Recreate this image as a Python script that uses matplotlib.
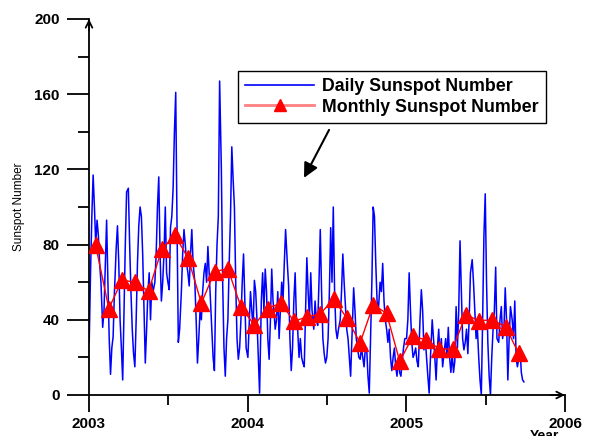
import matplotlib
matplotlib.use("Agg")
import matplotlib.pyplot as plt
from matplotlib.lines import Line2D
import numpy as np
import pandas as pd

plt.rcParams['font.family'] = ['Liberation Sans', 'DejaVu Sans']

# Monthly sunspot numbers, Jan 2003 .. Sep 2005
monthly_2003 = [79.7, 46.0, 61.1, 60.0, 55.2, 77.4, 85.0, 72.7, 48.8, 65.6, 67.2, 46.7]
monthly_2004 = [37.2, 46.0, 48.9, 39.3, 41.5, 43.2, 51.1, 40.9, 27.7, 48.0, 43.5, 17.9]
monthly_2005 = [31.3, 29.2, 24.5, 24.4, 42.6, 39.6, 39.9, 36.4, 22.1]

# Daily sunspot numbers (read every ~3 days: days 1,4,...,28 of each month)
daily_2003 = [
    [28, 65, 95, 117, 100, 80, 93, 85, 70, 60],
    [36, 45, 70, 93, 60, 30, 11, 25, 31, 55],
    [60, 78, 90, 70, 40, 25, 8, 45, 80, 108],
    [110, 80, 55, 35, 22, 15, 40, 70, 90, 100],
    [95, 75, 45, 17, 35, 55, 65, 40, 60, 55],
    [60, 75, 100, 116, 75, 50, 60, 75, 100, 65],
    [60, 56, 89, 95, 110, 140, 161, 90, 28, 35],
    [55, 75, 88, 80, 70, 65, 58, 75, 88, 70],
    [60, 40, 17, 30, 45, 40, 55, 65, 70, 60],
    [79, 65, 50, 35, 20, 13, 55, 80, 95, 167],
    [120, 60, 25, 10, 30, 40, 70, 95, 132, 115],
    [100, 60, 30, 19, 25, 40, 60, 75, 50, 25],
]
daily_2004 = [
    [20, 38, 55, 45, 35, 61, 55, 40, 20, 1],
    [50, 65, 45, 67, 55, 30, 19, 40, 67, 50],
    [45, 35, 40, 55, 30, 45, 60, 50, 70, 88],
    [70, 58, 30, 13, 25, 50, 65, 40, 34, 20],
    [30, 20, 17, 15, 45, 73, 55, 40, 65, 45],
    [35, 50, 40, 37, 60, 88, 55, 30, 22, 17],
    [20, 30, 55, 89, 60, 100, 55, 35, 30, 35],
    [40, 55, 75, 60, 48, 35, 30, 20, 10, 30],
    [57, 45, 30, 25, 20, 19, 25, 20, 15, 25],
    [25, 10, 1, 30, 60, 100, 95, 70, 50, 45],
    [60, 55, 70, 50, 40, 35, 28, 35, 20, 13],
    [20, 25, 15, 10, 20, 12, 10, 18, 25, 30],
]
daily_2005 = [
    [30, 40, 65, 45, 28, 20, 22, 25, 18, 15],
    [40, 56, 45, 24, 30, 20, 10, 1, 20, 35],
    [40, 30, 20, 8, 25, 35, 20, 30, 15, 22],
    [30, 20, 36, 20, 12, 22, 12, 18, 47, 25],
    [45, 82, 55, 30, 24, 28, 35, 22, 40, 65],
    [72, 60, 45, 30, 35, 20, 8, 0, 40, 85],
    [107, 60, 28, 10, 0, 20, 35, 45, 68, 30],
    [28, 40, 47, 30, 35, 57, 40, 8, 30, 47],
    [40, 30, 50, 20, 15, 19, 25, 12, 8, 7],
]
sample_days = [1, 4, 7, 10, 13, 16, 19, 22, 25, 28]

# Build decimal-year time axis
daily_t, daily_v = [], []
for year, months in ((2003, daily_2003), (2004, daily_2004), (2005, daily_2005)):
    ndays = 366 if year % 4 == 0 else 365
    for mi, vals in enumerate(months):
        for d, v in zip(sample_days, vals):
            doy = pd.Timestamp(year, mi + 1, d).dayofyear
            daily_t.append(year + (doy - 0.5) / ndays)
            daily_v.append(v)

monthly_t, monthly_v = [], []
for year, vals in ((2003, monthly_2003), (2004, monthly_2004), (2005, monthly_2005)):
    for mi, v in enumerate(vals):
        monthly_t.append(year + (mi + 0.5) / 12)
        monthly_v.append(v)

fig = plt.figure(figsize=(5.94, 4.36), dpi=100)
ax = fig.add_axes([89/594, 1-395/436, 476/594, 376/436])

ax.plot(daily_t, daily_v, color='#0000ff', lw=1.1, zorder=2)
ax.plot(monthly_t, monthly_v, color='#ff0000', lw=1.0, marker='^',
        markersize=11, markerfacecolor='#ff0000', markeredgecolor='#ff0000', zorder=3)

ax.set_xlim(2003, 2006)
ax.set_ylim(0, 200)
ax.set_xticks([2003, 2004, 2005, 2006])
ax.set_xticks([2003.5, 2004.5, 2005.5], minor=True)
ax.set_yticks([0, 40, 80, 120, 160, 200])
ax.set_yticks([20, 60, 100, 140, 180], minor=True)

for s in ('top', 'right'):
    ax.spines[s].set_visible(False)
for s in ('left', 'bottom'):
    ax.spines[s].set_linewidth(1.3)
    ax.spines[s].set_clip_on(False)

ax.tick_params(axis='y', which='major', direction='out', length=16, width=1.3, pad=5, labelsize=11)
ax.tick_params(axis='y', which='minor', direction='out', length=8, width=1.3)
ax.tick_params(axis='x', which='major', direction='out', length=12, width=1.3, pad=4, labelsize=11)
ax.tick_params(axis='x', which='minor', direction='out', length=7, width=1.3)
for lab in ax.get_xticklabels() + ax.get_yticklabels():
    lab.set_fontweight('bold')

ax.set_ylabel('Sunspot Number', fontsize=8.5)
ax.yaxis.set_label_coords(-0.135, 0.5)
fig.text(544/594, 1-429/436, 'Year', ha='center', va='top', fontsize=10, fontweight='bold')

# axis arrowheads
ax.annotate('', xy=(0, 1.0), xytext=(0, 0.97), xycoords='axes fraction',
            arrowprops=dict(arrowstyle='->', lw=1.3, color='black', mutation_scale=12,
                            shrinkA=0, shrinkB=0), annotation_clip=False)
ax.annotate('', xy=(1.0, 0), xytext=(0.97, 0), xycoords='axes fraction',
            arrowprops=dict(arrowstyle='->', lw=1.3, color='black', mutation_scale=12,
                            shrinkA=0, shrinkB=0), annotation_clip=False)

# pointer arrow
ax.annotate('', xy=(2004.355, 115.5), xytext=(2004.513, 141),
            arrowprops=dict(arrowstyle='-|>', lw=1.5, color='black', mutation_scale=22,
                            shrinkA=0, shrinkB=0))

handles = [
    Line2D([], [], color='#0000ff', lw=1.2),
    Line2D([], [], color='#ff8080', lw=2.0, marker='^', markersize=8,
           markerfacecolor='#ff0000', markeredgecolor='#ff0000'),
]
leg = fig.legend(handles, ['Daily Sunspot Number', 'Monthly Sunspot Number'],
                 loc='upper left', bbox_to_anchor=(238/594, 1-71/436),
                 bbox_transform=fig.transFigure, borderaxespad=0,
                 frameon=True, fancybox=False, edgecolor='black', framealpha=1,
                 prop={'weight': 'bold', 'size': 12.8},
                 handlelength=3.9, handletextpad=0.45, borderpad=0.4, labelspacing=0.2)
leg.get_frame().set_linewidth(1.0)

fig.savefig('out.png', dpi=100)
